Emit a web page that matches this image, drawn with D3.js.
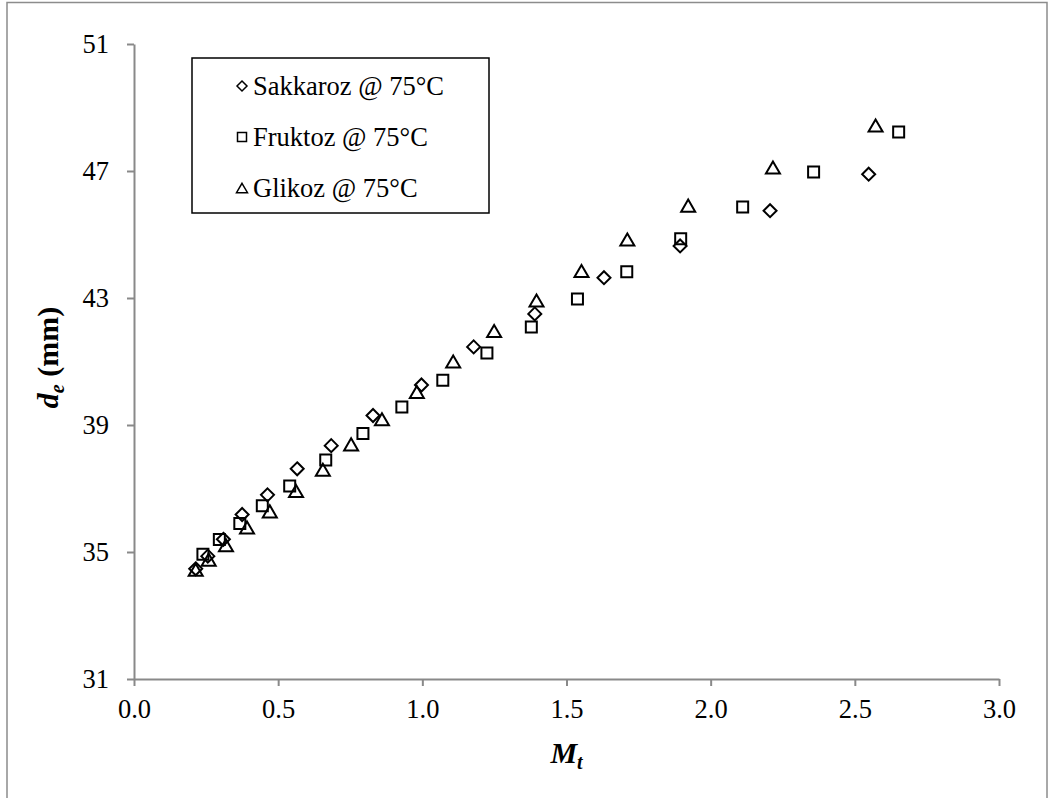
<!DOCTYPE html>
<html>
<head>
<meta charset="utf-8">
<script src="https://cdn.jsdelivr.net/npm/d3@7"></script>
<style>
  html, body { margin: 0; padding: 0; background: #fff; }
  svg { display: block; }
  text { font-family: "Liberation Serif", "Times New Roman", serif; fill: #000; }
</style>
</head>
<body>
<svg id="chart" width="1054" height="798"></svg>
<script>
// Drop diameter d_e (mm) against M_t for three sugar solutions at 75°C
const sakkarozM = [0.214, 0.256, 0.310, 0.375, 0.463, 0.566, 0.684, 0.829, 0.997, 1.178, 1.390, 1.630, 1.894, 2.206, 2.548];
const sakkarozD = [34.47, 34.87, 35.40, 36.18, 36.80, 37.62, 38.35, 39.30, 40.26, 41.46, 42.50, 43.64, 44.64, 45.75, 46.90];

const fruktozM = [0.239, 0.296, 0.367, 0.445, 0.540, 0.665, 0.794, 0.929, 1.071, 1.224, 1.378, 1.538, 1.709, 1.896, 2.111, 2.357, 2.652];
const fruktozD = [34.93, 35.39, 35.90, 36.46, 37.08, 37.90, 38.73, 39.57, 40.41, 41.27, 42.09, 42.97, 43.83, 44.87, 45.87, 46.97, 48.23];

const glikozM = [0.214, 0.259, 0.319, 0.392, 0.471, 0.562, 0.655, 0.753, 0.860, 0.981, 1.107, 1.249, 1.396, 1.552, 1.711, 1.922, 2.216, 2.572];
const glikozD = [34.44, 34.76, 35.21, 35.77, 36.28, 36.92, 37.59, 38.39, 39.18, 40.04, 41.00, 41.96, 42.92, 43.85, 44.84, 45.91, 47.11, 48.43];

const seriesNames = ["Sakkaroz @ 75°C", "Fruktoz @ 75°C", "Glikoz @ 75°C"];
const xTicks = [0.0, 0.5, 1.0, 1.5, 2.0, 2.5, 3.0];
const yTicks = [31, 35, 39, 43, 47, 51];

const svg = d3.select("#chart");
const serif = '"Liberation Serif", "Times New Roman", serif';

// outer chart frame
svg.append("rect")
  .attr("x", 7).attr("y", 2.5).attr("width", 1040).attr("height", 800)
  .attr("fill", "none").attr("stroke", "#8c8c8c").attr("stroke-width", 1.5);

const plot = { left: 134, right: 999, top: 44, bottom: 679 };

const x = d3.scaleLinear().domain([0, 3]).range([plot.left, plot.right]);
const y = d3.scaleLinear().domain([31, 51]).range([plot.bottom, plot.top]);

const axisColor = "#898989";

const xAxis = svg.append("g")
  .attr("transform", `translate(0,${plot.bottom})`)
  .call(d3.axisBottom(x).tickValues(xTicks).tickFormat(d3.format(".1f")).tickSizeInner(7).tickSizeOuter(0).tickPadding(13));

const yAxis = svg.append("g")
  .attr("transform", `translate(${plot.left},0)`)
  .call(d3.axisLeft(y).tickValues(yTicks).tickFormat(d3.format("d")).tickSizeInner(7).tickSizeOuter(0).tickPadding(18));

[xAxis, yAxis].forEach(g => {
  g.attr("font-family", null);
  g.select(".domain").attr("stroke", axisColor).attr("stroke-width", 2);
  g.selectAll(".tick line").attr("stroke", axisColor).attr("stroke-width", 2);
  g.selectAll(".tick text")
    .style("font-family", serif)
    .style("font-size", "26.5px").attr("fill", "#000");
});

// marker shapes, centred on the data point
function markerPath(kind, s) {
  if (kind === "diamond") return `M0,${-s}L${s},0L0,${s}L${-s},0Z`;
  if (kind === "square") return `M${-s},${-s}H${s}V${s}H${-s}Z`;
  const h = s * 0.86;
  return `M0,${-h}L${s},${h}L${-s},${h}Z`;
}

const series = [
  { name: seriesNames[0], kind: "diamond", size: 6.5, m: sakkarozM, d: sakkarozD },
  { name: seriesNames[1], kind: "square", size: 5.5, m: fruktozM, d: fruktozD },
  { name: seriesNames[2], kind: "triangle", size: 7, m: glikozM, d: glikozD }
];

series.forEach(s => {
  const pts = s.m.map((v, i) => [v, s.d[i]]);
  svg.append("g").selectAll("path")
    .data(pts)
    .join("path")
    .attr("transform", p => `translate(${x(p[0])},${y(p[1])})`)
    .attr("d", markerPath(s.kind, s.size))
    .attr("fill", "none")
    .attr("stroke", "#000")
    .attr("stroke-width", 2);
});

// legend
const legend = svg.append("g");
legend.append("rect")
  .attr("x", 192).attr("y", 58).attr("width", 297).attr("height", 155)
  .attr("fill", "#fff").attr("stroke", "#000").attr("stroke-width", 1.5);

const legendSizes = { diamond: 5, square: 4.5, triangle: 5.5 };
series.forEach((s, i) => {
  const cy = 86 + i * 51;
  legend.append("path")
    .attr("transform", `translate(242,${cy})`)
    .attr("d", markerPath(s.kind, legendSizes[s.kind]))
    .attr("fill", "none").attr("stroke", "#000").attr("stroke-width", 1.5);
  legend.append("text")
    .attr("x", 253).attr("y", cy + 9)
    .style("font-size", "26.5px")
    .text(s.name);
});

// axis titles
const xt = svg.append("text")
  .attr("x", (plot.left + plot.right) / 2).attr("y", 763)
  .attr("text-anchor", "middle")
  .style("font-size", "30px").style("font-weight", "bold").style("font-style", "italic");
xt.append("tspan").text("M");
xt.append("tspan").attr("dy", 6).style("font-size", "20px").text("t");

const yt = svg.append("text")
  .attr("transform", `translate(58,${(plot.top + plot.bottom) / 2 - 4}) rotate(-90)`)
  .attr("text-anchor", "middle")
  .style("font-size", "30px").style("font-weight", "bold");
yt.append("tspan").style("font-style", "italic").text("d");
yt.append("tspan").attr("dy", 6).style("font-style", "italic").style("font-size", "20px").text("e");
yt.append("tspan").attr("dy", -6).text(" (mm)");
</script>
</body>
</html>
